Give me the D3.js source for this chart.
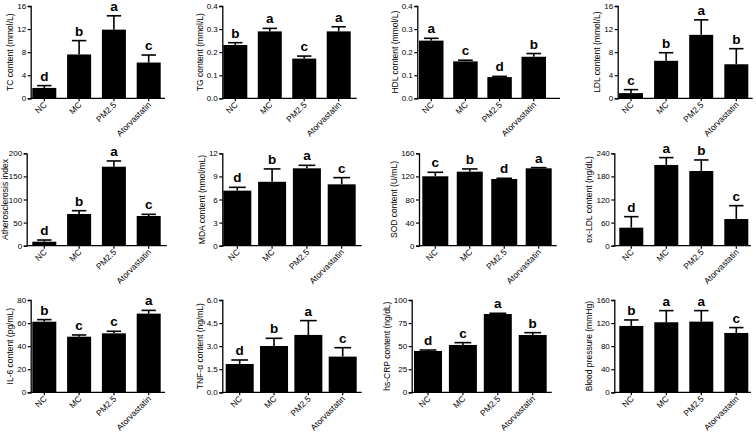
<!DOCTYPE html>
<html>
<head>
<meta charset="utf-8">
<style>
  body { margin: 0; background: #fff; }
  svg { display: block; font-family: "Liberation Sans", Arial, sans-serif; }
</style>
</head>
<body>
<div id="chart"></div>
<script src="https://d3js.org/d3.v7.min.js"></script>
<script>
// groups on the x axis
const groups = ['NC', 'MC', 'PM2.5', 'Atorvastatin'];

// values: mean, upper error, letters
const tcMean = [1.8, 7.6, 11.9, 6.2];
const tcErr = [0.4, 2.4, 2.4, 1.3];
const tcLetters = ['d', 'b', 'a', 'c'];

const tgMean = [0.231, 0.290, 0.172, 0.290];
const tgErr = [0.010, 0.013, 0.011, 0.020];
const tgLetters = ['b', 'a', 'c', 'a'];

const hdlMean = [0.250, 0.160, 0.092, 0.180];
const hdlErr = [0.010, 0.005, 0.003, 0.014];
const hdlLetters = ['a', 'c', 'd', 'b'];

const ldlMean = [0.9, 6.5, 11.0, 5.9];
const ldlErr = [0.6, 1.4, 2.6, 2.7];
const ldlLetters = ['c', 'b', 'a', 'b'];

const aiMean = [8.7, 68.6, 171, 64.3];
const aiErr = [3.6, 7.2, 12.4, 3.6];
const aiLetters = ['d', 'b', 'a', 'c'];

const mdaMean = [7.15, 8.3, 10.05, 7.97];
const mdaErr = [0.43, 1.67, 0.39, 0.87];
const mdaLetters = ['d', 'b', 'a', 'c'];

const sodMean = [120.2, 128.2, 115.5, 134.0];
const sodErr = [6.9, 4.7, 1.2, 1.2];
const sodLetters = ['c', 'b', 'd', 'a'];

const oxMean = [46.8, 209.7, 194.0, 69.3];
const oxErr = [28.6, 19.1, 28.7, 34.7];
const oxLetters = ['d', 'a', 'b', 'c'];

const il6Mean = [61.2, 48.2, 51.1, 68.2];
const il6Err = [1.8, 1.5, 1.8, 2.8];
const il6Letters = ['b', 'c', 'c', 'a'];

const tnfMean = [1.84, 3.01, 3.73, 2.32];
const tnfErr = [0.26, 0.50, 0.93, 0.58];
const tnfLetters = ['d', 'b', 'a', 'c'];

const crpMean = [44.8, 51.3, 84.8, 62.1];
const crpErr = [1.0, 2.5, 0.8, 2.5];
const crpLetters = ['d', 'c', 'a', 'b'];

const bpMean = [115.0, 121.4, 122.5, 102.9];
const bpErr = [10.4, 20.2, 19.1, 9.3];
const bpLetters = ['b', 'a', 'a', 'c'];

// y axes: label, max, tick values and format
const yLabels = ['TC content (mmol/L)', 'TG content (mmol/L)', 'HDL content (mmol/L)', 'LDL content (mmol/L)',
  'Atherosclerosis index', 'MDA content (nmol/mL)', 'SOD content (U/mL)', 'ox-LDL content (ng/dL)',
  'IL-6 content (pg/mL)', 'TNF-\u03b1  content (ng/mL)', 'hs-CRP content (ng/dL)', 'Blood pressure (mmHg)'];
const yTicks = [
  [0, 4, 8, 12, 16], [0, 0.1, 0.2, 0.3, 0.4], [0, 0.1, 0.2, 0.3, 0.4], [0, 4, 8, 12, 16],
  [0, 50, 100, 150, 200], [0, 3, 6, 9, 12], [0, 40, 80, 120, 160], [0, 60, 120, 180, 240],
  [0, 20, 40, 60, 80], [0, 1.5, 3, 4.5, 6], [0, 25, 50, 75, 100], [0, 40, 80, 120, 160]];
const yFormats = ['d', '.1f', '.1f', 'd', 'd', 'd', 'd', 'd', 'd', '.1f', 'd', 'd'];

const means = [tcMean, tgMean, hdlMean, ldlMean, aiMean, mdaMean, sodMean, oxMean, il6Mean, tnfMean, crpMean, bpMean];
const errs = [tcErr, tgErr, hdlErr, ldlErr, aiErr, mdaErr, sodErr, oxErr, il6Err, tnfErr, crpErr, bpErr];
const letters = [tcLetters, tgLetters, hdlLetters, ldlLetters, aiLetters, mdaLetters, sodLetters, oxLetters,
  il6Letters, tnfLetters, crpLetters, bpLetters];

// layout of each panel (pixels): y axis x, bar span, bar width, x axis end
const layout = [
  { ax: 30.7, b0: 32.3, b1: 160.7, bw: 24, ae: 165 },
  { ax: 222.3, b0: 223.3, b1: 350.7, bw: 24, ae: 356.7 },
  { ax: 417.3, b0: 419, b1: 546, bw: 24.5, ae: 560 },
  { ax: 617.7, b0: 619, b1: 748.3, bw: 24, ae: 752.7 },
  { ax: 26.7, b0: 32.3, b1: 160.7, bw: 24, ae: 166.7 },
  { ax: 222.3, b0: 223.3, b1: 355.7, bw: 28, ae: 361.7 },
  { ax: 419, b0: 422.3, b1: 551.7, bw: 26, ae: 556.7 },
  { ax: 614.3, b0: 619.3, b1: 748.3, bw: 24, ae: 751 },
  { ax: 30.7, b0: 32.3, b1: 160.7, bw: 24, ae: 165 },
  { ax: 222.3, b0: 225.7, b1: 356.7, bw: 28, ae: 361.7 },
  { ax: 411.7, b0: 414, b1: 546.7, bw: 28, ae: 551.7 },
  { ax: 614.3, b0: 619.3, b1: 748.3, bw: 24, ae: 751 }];
const rows = [{ top: 6, zero: 98.3 }, { top: 153.3, zero: 245.7 }, { top: 300, zero: 392.3 }];

const width = 756;
const height = 433;

const svg = d3.select('#chart')
  .append('svg')
  .attr('width', width)
  .attr('height', height)
  .style('background', '#fff');

means.forEach((m, i) => {
  const L = layout[i];
  const R = rows[Math.floor(i / 4)];
  const ticks = yTicks[i];
  const W = L.b1 - L.b0;
  const step = (W - L.bw) / 3;

  const x = d3.scaleBand()
    .domain(groups)
    .range([L.b0, L.b1])
    .paddingInner(1 - L.bw / step)
    .paddingOuter(0);

  const y = d3.scaleLinear()
    .domain([0, ticks[ticks.length - 1]])
    .range([R.zero, R.top]);

  const g = svg.append('g');

  // bars
  g.selectAll('rect.bar')
    .data(groups)
    .join('rect')
    .attr('class', 'bar')
    .attr('x', d => x(d))
    .attr('y', (d, j) => y(m[j]))
    .attr('width', x.bandwidth())
    .attr('height', (d, j) => R.zero - y(m[j]))
    .attr('fill', '#000');

  // error bars (upper only)
  const capW = x.bandwidth() * 0.6;
  g.selectAll('line.err')
    .data(groups)
    .join('line')
    .attr('class', 'err')
    .attr('x1', d => x(d) + x.bandwidth() / 2)
    .attr('x2', d => x(d) + x.bandwidth() / 2)
    .attr('y1', (d, j) => y(m[j]))
    .attr('y2', (d, j) => y(m[j] + errs[i][j]))
    .attr('stroke', '#000')
    .attr('stroke-width', 1.6);
  g.selectAll('line.cap')
    .data(groups)
    .join('line')
    .attr('class', 'cap')
    .attr('x1', d => x(d) + x.bandwidth() / 2 - capW / 2)
    .attr('x2', d => x(d) + x.bandwidth() / 2 + capW / 2)
    .attr('y1', (d, j) => y(m[j] + errs[i][j]))
    .attr('y2', (d, j) => y(m[j] + errs[i][j]))
    .attr('stroke', '#000')
    .attr('stroke-width', 1.6);

  // significance letters
  g.selectAll('text.sig')
    .data(groups)
    .join('text')
    .attr('class', 'sig')
    .attr('x', d => x(d) + x.bandwidth() / 2)
    .attr('y', (d, j) => y(m[j] + errs[i][j]) - 5)
    .attr('text-anchor', 'middle')
    .style('font-size', '13.5px')
    .style('font-weight', 'bold')
    .text((d, j) => letters[i][j]);

  // y axis
  const yAxis = g.append('g')
    .attr('transform', `translate(${L.ax},0)`)
    .call(d3.axisLeft(y).tickValues(ticks).tickFormat(d3.format(yFormats[i])).tickSize(3).tickPadding(1.5));
  yAxis.select('.domain').attr('stroke-width', 1.3);
  yAxis.selectAll('.tick line').attr('stroke-width', 1.2);
  yAxis.selectAll('text').style('font-size', '8px').style('font-family', 'Liberation Sans, Arial, sans-serif');

  // x axis
  const xAxis = g.append('g')
    .attr('transform', `translate(0,${R.zero})`);
  xAxis.append('line')
    .attr('x1', L.ax).attr('x2', L.ae)
    .attr('stroke', '#000').attr('stroke-width', 1.3);
  xAxis.selectAll('line.xt')
    .data(groups)
    .join('line')
    .attr('class', 'xt')
    .attr('x1', d => x(d) + x.bandwidth() / 2)
    .attr('x2', d => x(d) + x.bandwidth() / 2)
    .attr('y1', 0).attr('y2', 3)
    .attr('stroke', '#000').attr('stroke-width', 1.2);
  xAxis.selectAll('text.xl')
    .data(groups)
    .join('text')
    .attr('class', 'xl')
    .attr('text-anchor', 'end')
    .attr('transform', d => `translate(${x(d) + x.bandwidth() / 2 + 3},${7}) rotate(-45)`)
    .style('font-size', '8.5px')
    .text(d => d);

  // y label, placed left of the tick labels
  const bb = yAxis.node().getBBox();
  const lx = Math.max(5.5, L.ax + bb.x - 7);
  g.append('text')
    .attr('transform', `translate(${lx},${(R.top + R.zero) / 2}) rotate(-90)`)
    .attr('text-anchor', 'middle')
    .attr('dy', '0.35em')
    .style('font-size', '8.5px')
    .text(yLabels[i]);
});
</script>
</body>
</html>
